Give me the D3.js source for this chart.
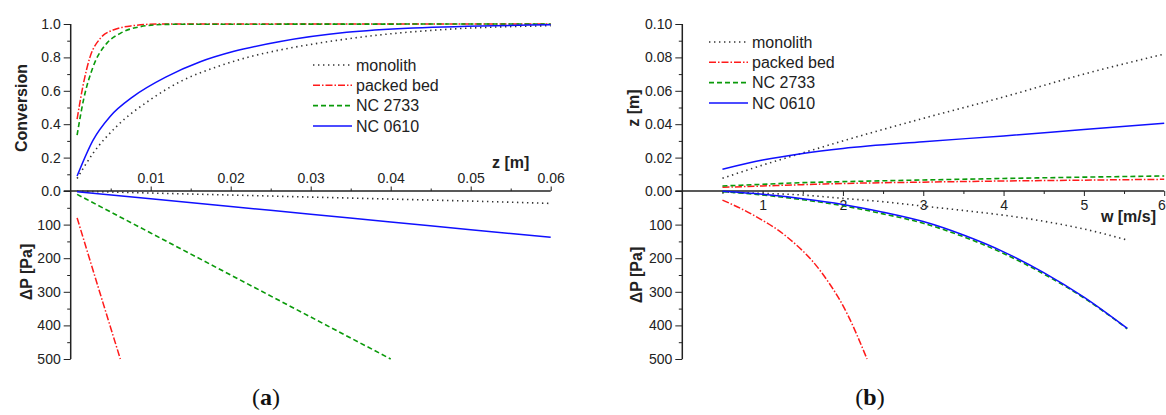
<!DOCTYPE html>
<html>
<head>
<meta charset="utf-8">
<script src="https://cdn.jsdelivr.net/npm/d3@7"></script>
<style>
  body { margin: 0; background: #fff; }
  svg { display: block; font-family: "Liberation Sans", Arial, sans-serif; }
  .axis path, .axis line { stroke: #222; }
  .axis text { fill: #222; font-size: 14px; font-family: "Liberation Sans", Arial, sans-serif; }
</style>
</head>
<body>
<div id="chart"></div>
<script>
// ---- data ----
const seriesNames = ['monolith', 'packed bed', 'NC 2733', 'NC 0610'];

// (a) conversion vs z [m]
const convMonolithZ = [0.0008, 0.0028, 0.0057, 0.0099, 0.0141, 0.0183, 0.0224, 0.0262, 0.0303, 0.0387, 0.047, 0.06];
const convMonolith = [0.075, 0.226, 0.385, 0.545, 0.665, 0.744, 0.804, 0.845, 0.88, 0.935, 0.968, 0.99];
const convPackedZ = [0.0008, 0.0016, 0.0024, 0.0037, 0.0053, 0.0078, 0.011, 0.06];
const convPacked = [0.43, 0.645, 0.8, 0.914, 0.964, 0.99, 1.0, 1.0];
const convNC2733Z = [0.0008, 0.0016, 0.0028, 0.0045, 0.0062, 0.0087, 0.012, 0.06];
const convNC2733 = [0.335, 0.545, 0.744, 0.884, 0.944, 0.984, 0.998, 1.0];
const convNC0610Z = [0.0008, 0.0028, 0.0049, 0.0078, 0.012, 0.0162, 0.0203, 0.0262, 0.0345, 0.0428, 0.06];
const convNC0610 = [0.09, 0.305, 0.445, 0.565, 0.685, 0.774, 0.835, 0.895, 0.95, 0.976, 0.995];

// (a) pressure drop vs z [m]
const dpaMonolithZ = [0.0008, 0.01, 0.02, 0.03, 0.04, 0.05, 0.06];
const dpaMonolith = [0.5, 6, 12, 18, 24, 30, 37];
const dpaPackedZ = [0.0008, 0.002, 0.004, 0.0062];
const dpaPacked = [80, 174, 330, 500];
const dpaNC2733Z = [0.0008, 0.01, 0.02, 0.03, 0.04];
const dpaNC2733 = [10, 125, 250, 375, 500];
const dpaNC0610Z = [0.0008, 0.01, 0.02, 0.03, 0.04, 0.05, 0.06];
const dpaNC0610 = [2, 23, 46, 69, 92, 115, 138];

// (b) z [m] vs w [m/s]
const zbW = [0.5, 1, 1.5, 2, 3, 4, 5, 6];
const zbMonolith = [0.0076, 0.0155, 0.0228, 0.03, 0.0435, 0.0563, 0.07, 0.082];
const zbPacked = [0.0022, 0.003, 0.0038, 0.0045, 0.0053, 0.006, 0.0065, 0.007];
const zbNC2733 = [0.003, 0.004, 0.005, 0.0056, 0.0066, 0.0075, 0.0083, 0.009];
const zbNC0610 = [0.013, 0.0185, 0.0225, 0.0255, 0.0295, 0.033, 0.0368, 0.0405];

// (b) pressure drop vs w [m/s]
const dpbW = [0.5, 1, 1.5, 2, 2.5, 3, 3.5, 4, 4.5, 5, 5.54];
const dpbMonolith = [3, 7, 12, 22, 32, 45, 58, 72, 90, 113, 146];
const dpbNC2733 = [2, 12, 26, 44, 68, 96, 136, 186, 247, 318, 410];
const dpbNC0610 = [1, 10, 23, 40, 63, 91, 131, 181, 243, 316, 409];
const dpbPackedW = [0.5, 0.88, 1.3, 1.71, 2.05, 2.3];
const dpbPacked = [27, 71, 136, 235, 364, 500];

// tick labels
const convTicks = [0, 0.2, 0.4, 0.6, 0.8, 1.0];
const zaTicks = [0.01, 0.02, 0.03, 0.04, 0.05, 0.06];
const dpTicks = [100, 200, 300, 400, 500];
const zbTicks = [0, 0.02, 0.04, 0.06, 0.08, 0.10];
const wTicks = [1, 2, 3, 4, 5, 6];

// ---- styles per series ----
const styles = [
  { color: '#333', dash: '1.4,3.6', width: 1.6 },
  { color: '#ff1a1a', dash: '7,2,1.5,2', width: 1.5 },
  { color: '#0a9a0a', dash: '5,3', width: 1.6 },
  { color: '#1010ff', dash: null, width: 1.5 },
];

const width = 1166;
const height = 415;
const svg = d3.select('#chart').append('svg')
  .attr('width', width)
  .attr('height', height);

svg.append('rect').attr('width', width).attr('height', height).attr('fill', '#fff');

function zip(xs, ys) {
  return xs.map((x, i) => [x, ys[i]]);
}

function drawLine(g, x, y, pts, s) {
  const line = d3.line().x((d) => x(d[0])).y((d) => y(d[1])).curve(d3.curveMonotoneX);
  g.append('path')
    .datum(pts)
    .attr('d', line)
    .attr('fill', 'none')
    .attr('stroke', s.color)
    .attr('stroke-width', s.width)
    .attr('stroke-dasharray', s.dash);
}

// one axis group with labels or minor ticks, domain path removed
function axisGroup(g, axis, transform) {
  return g.append('g').attr('class', 'axis')
    .attr('transform', transform)
    .call(axis)
    .call((a) => a.select('.domain').remove());
}

function legend(x0, y0) {
  const lg = svg.append('g');
  seriesNames.forEach((name, i) => {
    const s = styles[i];
    const y = y0 + i * 20.3;
    lg.append('line')
      .attr('x1', x0).attr('x2', x0 + 39)
      .attr('y1', y).attr('y2', y)
      .attr('stroke', s.color)
      .attr('stroke-width', s.width)
      .attr('stroke-dasharray', s.dash);
    lg.append('text')
      .attr('x', x0 + 43).attr('y', y)
      .attr('dy', '0.35em')
      .attr('font-size', 16)
      .attr('fill', '#222')
      .text(name);
  });
}

function yTitle(x, y, txt) {
  svg.append('text')
    .attr('transform', `translate(${x},${y}) rotate(-90)`)
    .attr('text-anchor', 'middle')
    .attr('dominant-baseline', 'central')
    .attr('font-size', 16)
    .attr('font-weight', 'bold')
    .attr('fill', '#222')
    .text(txt);
}

function frame(g, x0, x1, yTop, y0, yBottom) {
  g.append('line')
    .attr('x1', x0).attr('x2', x0)
    .attr('y1', yTop).attr('y2', yBottom)
    .attr('stroke', '#222').attr('stroke-width', 1.5);
  g.append('line')
    .attr('x1', x0 - 7).attr('x2', x1)
    .attr('y1', y0).attr('y2', y0)
    .attr('stroke', '#222').attr('stroke-width', 1.5);
}

// ================= panel (a) =================
const xA = d3.scaleLinear().domain([0, 0.06]).range([70.7, 550.7]);
const yConv = d3.scaleLinear().domain([0, 1]).range([191, 24]);
const yDpA = d3.scaleLinear().domain([0, 500]).range([191, 359]);

const gA = svg.append('g');
const atA = `translate(${xA(0)},0)`;
axisGroup(gA, d3.axisLeft(yConv).tickValues(convTicks).tickSize(7).tickPadding(3).tickFormat(d3.format('.1f')), atA);
axisGroup(gA, d3.axisLeft(yConv).tickValues([0.1, 0.3, 0.5, 0.7, 0.9]).tickSize(3.5).tickFormat(''), atA);
axisGroup(gA, d3.axisLeft(yDpA).tickValues(dpTicks).tickSize(7).tickPadding(3).tickFormat(d3.format('d')), atA);
axisGroup(gA, d3.axisLeft(yDpA).tickValues([50, 150, 250, 350, 450]).tickSize(3.5).tickFormat(''), atA);
const axA = `translate(0,${yConv(0)})`;
axisGroup(gA, d3.axisTop(xA).tickValues(zaTicks).tickSize(4.5).tickPadding(4).tickFormat(d3.format('.2f')), axA);
axisGroup(gA, d3.axisTop(xA).tickValues([0.005, 0.015, 0.025, 0.035, 0.045, 0.055]).tickSize(2.5).tickFormat(''), axA);
frame(gA, xA(0), xA(0.06), yConv(1), yConv(0), yDpA(500));

drawLine(gA, xA, yConv, zip(convMonolithZ, convMonolith), styles[0]);
drawLine(gA, xA, yConv, zip(convPackedZ, convPacked), styles[1]);
drawLine(gA, xA, yConv, zip(convNC2733Z, convNC2733), styles[2]);
drawLine(gA, xA, yConv, zip(convNC0610Z, convNC0610), styles[3]);
drawLine(gA, xA, yDpA, zip(dpaMonolithZ, dpaMonolith), styles[0]);
drawLine(gA, xA, yDpA, zip(dpaPackedZ, dpaPacked), styles[1]);
drawLine(gA, xA, yDpA, zip(dpaNC2733Z, dpaNC2733), styles[2]);
drawLine(gA, xA, yDpA, zip(dpaNC0610Z, dpaNC0610), styles[3]);

gA.append('text')
  .attr('x', 492).attr('y', 168)
  .attr('font-size', 16).attr('font-weight', 'bold').attr('fill', '#222')
  .text('z [m]');
yTitle(21, 108, 'Conversion');
yTitle(26, 272, 'ΔP [Pa]');
legend(313, 65);

// ================= panel (b) =================
const xB = d3.scaleLinear().domain([0, 6]).range([682.3, 1164.2]);
const yZ = d3.scaleLinear().domain([0, 0.1]).range([191, 24]);
const yDpB = d3.scaleLinear().domain([0, 500]).range([191, 359]);

const gB = svg.append('g');
const atB = `translate(${xB(0)},0)`;
axisGroup(gB, d3.axisLeft(yZ).tickValues(zbTicks).tickSize(7).tickPadding(3).tickFormat(d3.format('.2f')), atB);
axisGroup(gB, d3.axisLeft(yZ).tickValues([0.01, 0.03, 0.05, 0.07, 0.09]).tickSize(3.5).tickFormat(''), atB);
axisGroup(gB, d3.axisLeft(yDpB).tickValues(dpTicks).tickSize(7).tickPadding(3).tickFormat(d3.format('d')), atB);
axisGroup(gB, d3.axisLeft(yDpB).tickValues([50, 150, 250, 350, 450]).tickSize(3.5).tickFormat(''), atB);
const axB = `translate(0,${yZ(0)})`;
const wAxis = axisGroup(gB, d3.axisBottom(xB).tickValues(wTicks).tickSize(5).tickPadding(4).tickFormat(d3.format('d')), axB);
// last label sits at the right edge: keep it inside the picture
wAxis.selectAll('.tick text').filter((d) => d === 6).attr('text-anchor', 'end').attr('dx', 1);
axisGroup(gB, d3.axisBottom(xB).tickValues([0.5, 1.5, 2.5, 3.5, 4.5, 5.5]).tickSize(3).tickFormat(''), axB);
frame(gB, xB(0), xB(6), yZ(0.1), yZ(0), yDpB(500));

drawLine(gB, xB, yZ, zip(zbW, zbMonolith), styles[0]);
drawLine(gB, xB, yZ, zip(zbW, zbPacked), styles[1]);
drawLine(gB, xB, yZ, zip(zbW, zbNC2733), styles[2]);
drawLine(gB, xB, yZ, zip(zbW, zbNC0610), styles[3]);
drawLine(gB, xB, yDpB, zip(dpbW, dpbMonolith), styles[0]);
drawLine(gB, xB, yDpB, zip(dpbPackedW, dpbPacked), styles[1]);
drawLine(gB, xB, yDpB, zip(dpbW, dpbNC2733), styles[2]);
drawLine(gB, xB, yDpB, zip(dpbW, dpbNC0610), styles[3]);

gB.append('text')
  .attr('x', 1156).attr('y', 222)
  .attr('text-anchor', 'end')
  .attr('font-size', 16).attr('font-weight', 'bold').attr('fill', '#222')
  .text('w [m/s]');
yTitle(633, 108, 'z [m]');
yTitle(636, 275, 'ΔP [Pa]');
legend(709, 42);

// ---- captions ----
[['a', 266], ['b', 870]].forEach(([letter, cx]) => {
  const t = svg.append('text')
    .attr('x', cx).attr('y', 405)
    .attr('text-anchor', 'middle')
    .attr('font-family', '"Liberation Serif", "DejaVu Serif", serif')
    .attr('font-size', 24)
    .attr('fill', '#111');
  t.append('tspan').text('(');
  t.append('tspan').attr('font-weight', 'bold').text(letter);
  t.append('tspan').text(')');
});
</script>
</body>
</html>
